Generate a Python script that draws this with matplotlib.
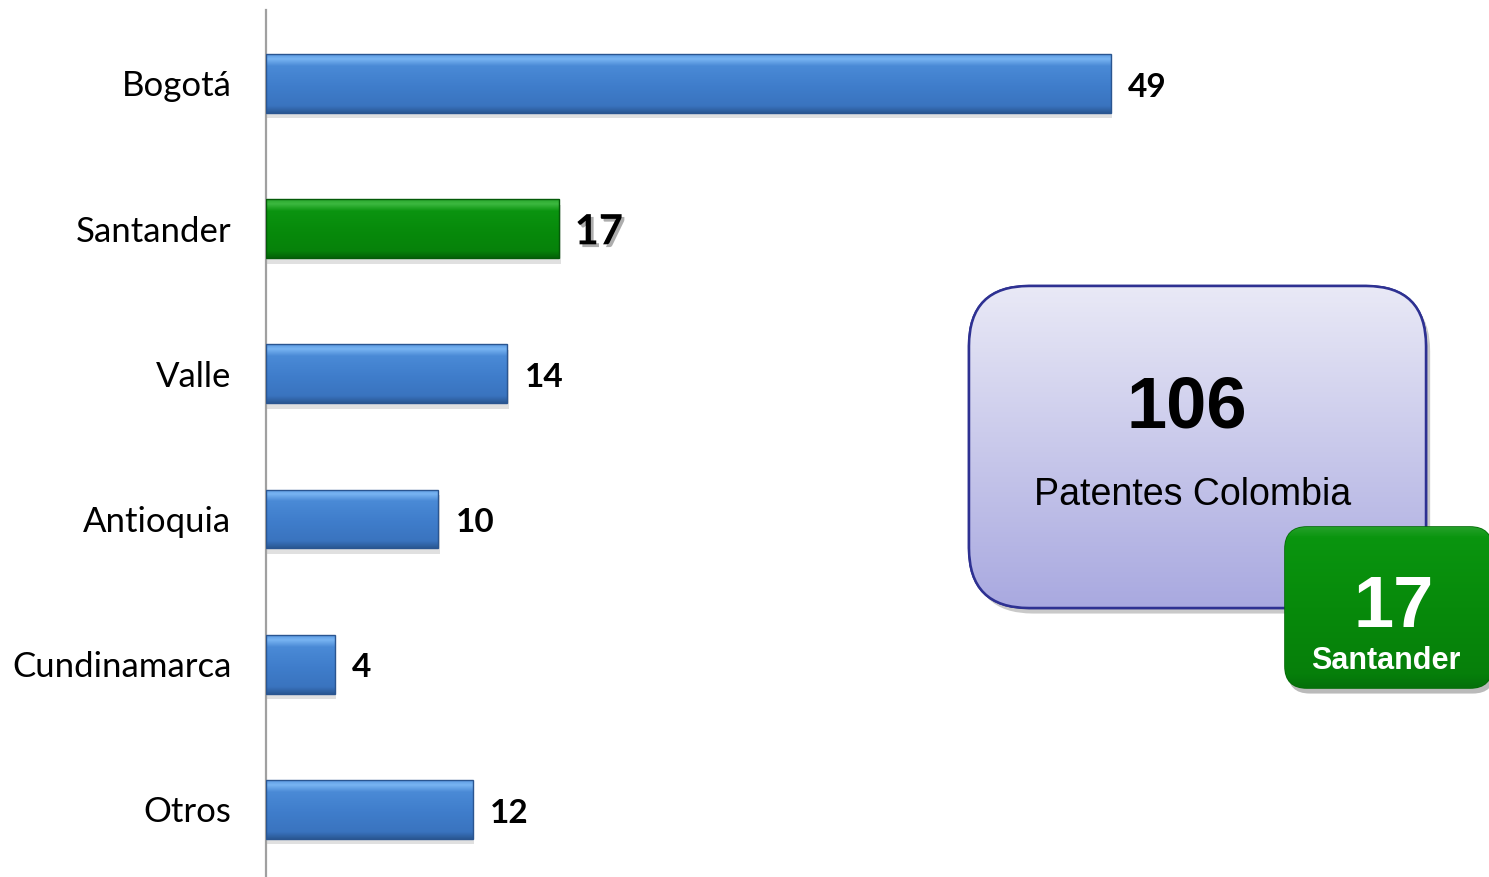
"""Patentes por departamento - barras horizontales con recuadro resumen"""

import matplotlib.pyplot as plt
import matplotlib.patheffects as pe
import numpy as np
from matplotlib.colors import LinearSegmentedColormap
from matplotlib.patches import FancyBboxPatch

# Datos
regiones = ["Bogotá", "Santander", "Valle", "Antioquia", "Cundinamarca", "Otros"]
patentes = [49, 17, 14, 10, 4, 12]
destacada = "Santander"
total = sum(patentes)  # 106

W, H = 1489, 877
fig = plt.figure(figsize=(W / 100, H / 100), dpi=100)

# ejes principales: linea vertical en x=266 px, desde y=10 px hasta abajo
ax = fig.add_axes([266 / W, 0, 1 - 266 / W, (H - 10) / H])
ax.set_xlim(0, (W - 266) / ((1111 - 266) / 49))
ax.set_ylim(5.465, -0.506)

pos = np.arange(len(regiones))
# degradado de arriba (brillo) hacia abajo (sombra)
azul = LinearSegmentedColormap.from_list(
    "azul", [(0, "#5c9ae2"), (0.08, "#78b4f2"), (0.2, "#4a8ad6"),
             (0.55, "#3f7dcb"), (0.88, "#3a74bf"), (1, "#2a5894")]
)
verde = LinearSegmentedColormap.from_list(
    "verde", [(0, "#2aa82e"), (0.08, "#3cb83f"), (0.2, "#0b9410"),
              (0.55, "#078a0b"), (0.88, "#06820a"), (1, "#046208")]
)

bars = ax.barh(pos, patentes, height=0.405, color="#3f7dcb", edgecolor="none", zorder=2)
grad = np.linspace(0, 1, 200).reshape(-1, 1)
for bar, reg, val in zip(bars, regiones, patentes):
    cmap = verde if reg == destacada else azul
    bar.set_path_effects(
        [pe.SimplePatchShadow(offset=(1, -4), shadow_rgbFace="#999999", alpha=0.3), pe.Normal()]
    )
    x0, y0 = bar.get_x(), bar.get_y()
    w, h = bar.get_width(), bar.get_height()
    im = ax.imshow(
        grad, cmap=cmap, aspect="auto", extent=(x0, x0 + w, y0 + h, y0),
        origin="upper", zorder=3, interpolation="bilinear",
    )
    im.set_clip_path(bar)
    ax.add_patch(plt.Rectangle((x0, y0), w, h, fill=False,
                               edgecolor="#2a5590" if reg != destacada else "#045a08",
                               lw=1.0, zorder=4))
    yc = y0 + h / 2 + 0.025
    if reg == destacada:
        ax.text(val + 0.9, yc, str(val), va="center", ha="left",
                fontsize=30, fontweight="bold", family="Lato", zorder=5,
                path_effects=[pe.withSimplePatchShadow(offset=(2, -2), shadow_rgbFace="#777777", alpha=0.6)])
    else:
        ax.text(val + 1.0, yc, str(val), va="center", ha="left",
                fontsize=24, fontweight="bold", family="Lato", zorder=5)

ax.set_yticks(pos)
ax.set_yticklabels(regiones, fontsize=25, family="Lato")
ax.tick_params(axis="y", length=0, pad=25)
ax.set_xticks([])
for s in ["top", "right", "bottom"]:
    ax.spines[s].set_visible(False)
ax.spines["left"].set_color("#a0a0a0")
ax.spines["left"].set_linewidth(1.6)
ax.patch.set_alpha(0)

# capa superpuesta en pixeles para los recuadros
ov = fig.add_axes([0, 0, 1, 1], zorder=5)
ov.set_xlim(0, W)
ov.set_ylim(H, 0)
ov.axis("off")

# recuadro lila: total Colombia
caja = FancyBboxPatch((969 + 60, 286 + 60), 457 - 120, 322 - 120,
                      boxstyle="round,pad=60", facecolor="#d0d0ee",
                      edgecolor="#2e3192", lw=1.8, zorder=2)
caja.set_path_effects([pe.SimplePatchShadow(offset=(3, -4), shadow_rgbFace="#888888", alpha=0.45), pe.Normal()])
ov.add_patch(caja)
lila = LinearSegmentedColormap.from_list("lila", ["#e9e9f6", "#a9a9e0"])
im = ov.imshow(grad, cmap=lila, aspect="auto", extent=(969, 1426, 608, 286),
               origin="upper", zorder=2.5)
im.set_clip_path(caja)
ov.add_patch(FancyBboxPatch((969 + 60, 286 + 60), 457 - 120, 322 - 120,
                            boxstyle="round,pad=60", fill=False,
                            edgecolor="#2e3192", lw=1.8, zorder=3))
ov.text(1187, 409, str(total), ha="center", va="center", fontsize=52,
        fontweight="bold", family="Liberation Sans", zorder=4)
ov.text(1193, 495, "Patentes Colombia", ha="center", va="center", fontsize=27,
        family="Liberation Sans", zorder=4)

# recuadro verde: Santander
idx = regiones.index(destacada)
cv = FancyBboxPatch((1285 + 22, 527 + 22), 207 - 44, 161 - 44,
                    boxstyle="round,pad=22", facecolor="#078a0b",
                    edgecolor="#056b08", lw=1.2, zorder=5)
cv.set_path_effects([pe.SimplePatchShadow(offset=(2, -4), shadow_rgbFace="#666666", alpha=0.45), pe.Normal()])
ov.add_patch(cv)
verde_caja = LinearSegmentedColormap.from_list(
    "vc", [(0, "#23a028"), (0.06, "#0a950f"), (0.5, "#078a0b"), (0.92, "#067f0a"), (1, "#05700a")]
)
im = ov.imshow(grad, cmap=verde_caja, aspect="auto", extent=(1285, 1492, 688, 527),
               origin="upper", zorder=5.5)
im.set_clip_path(cv)
ov.text(1394, 608, str(patentes[idx]), ha="center", va="center", fontsize=52,
        fontweight="bold", color="white", family="Liberation Sans", zorder=6)
ov.text(1386, 661, destacada, ha="center", va="center", fontsize=22,
        fontweight="bold", color="white", family="Liberation Sans", zorder=6)

fig.savefig("out.png", dpi=100)
